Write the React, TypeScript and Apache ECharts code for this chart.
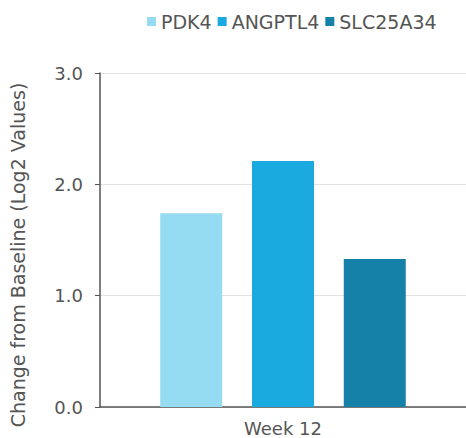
import React, { useEffect, useRef } from "react";
import * as echarts from "echarts";

const categories = ["Week 12"];
const seriesNames = ["PDK4", "ANGPTL4", "SLC25A34"];
const pdk4 = [1.74];
const angptl4 = [2.21];
const slc25a34 = [1.33];
const colors = ["#95dbf2", "#1aaadf", "#1580a8"];
const yTicks = { min: 0, max: 3, interval: 1 };
const yTitle = "Change from Baseline (Log2 Values)";

export default function App() {
  const ref = useRef<HTMLDivElement>(null);
  useEffect(() => {
    if (!ref.current) return;
    const chart = echarts.init(ref.current, null, { renderer: "svg" });
    const values = [pdk4, angptl4, slc25a34];
    const font = "DejaVu Sans, Verdana, sans-serif";
    chart.setOption({
      animation: false,
      textStyle: { fontFamily: font },
      legend: {
        top: 7,
        left: 142,
        itemWidth: 9,
        itemHeight: 9,
        itemGap: 6,
        icon: "rect",
        textStyle: { fontFamily: font, fontSize: 19, color: "#555" },
        data: seriesNames,
      },
      graphic: [
        {
          type: "text",
          x: 18,
          y: 255,
          rotation: Math.PI / 2,
          style: {
            text: yTitle,
            fontFamily: font,
            fontSize: 19,
            fill: "#555",
            align: "center",
            verticalAlign: "middle",
          },
        },
      ],
      grid: { left: 100, right: 0, top: 73, bottom: 31, containLabel: false },
      xAxis: {
        type: "category",
        data: categories,
        axisLine: { show: true, lineStyle: { color: "#555", width: 1.5 } },
        axisTick: { show: false },
        axisLabel: { fontFamily: font, fontSize: 18, color: "#555", margin: 12 },
      },
      yAxis: {
        type: "value",
        min: yTicks.min,
        max: yTicks.max,
        interval: yTicks.interval,
        axisLine: { show: true, lineStyle: { color: "#555", width: 1.5 } },
        axisTick: { show: true, length: 5, lineStyle: { color: "#555" } },
        axisLabel: {
          fontFamily: font,
          fontSize: 18,
          color: "#555",
          margin: 17,
          formatter: (v: number) => v.toFixed(1),
        },
        splitLine: { show: true, lineStyle: { color: "#e2e2e2", width: 1 } },
      },
      series: seriesNames.map((name, i) => ({
        name,
        type: "bar",
        data: values[i],
        barWidth: 62,
        barGap: "48%",
        itemStyle: { color: colors[i] },
      })),
    });
    return () => chart.dispose();
  }, []);
  return <div ref={ref} style={{ width: 466, height: 438, position: "absolute", left: 0, top: 0 }} />;
}
